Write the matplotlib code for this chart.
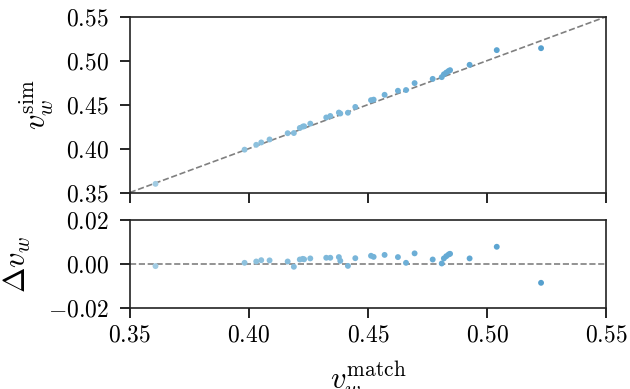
import numpy as np
import matplotlib.pyplot as plt

plt.rcParams['font.family'] = 'serif'
plt.rcParams['font.serif'] = ['cmr10', 'DejaVu Serif']
plt.rcParams['mathtext.fontset'] = 'cm'
plt.rcParams['axes.formatter.use_mathtext'] = True
plt.rcParams['font.size'] = 17

# v_w^match und Abweichung Delta v_w = v_sim - v_match
v_match = [0.3608, 0.3982, 0.4031, 0.4052, 0.4087, 0.4163, 0.4189, 0.4214,
           0.4226, 0.4232, 0.4258, 0.4325, 0.4342, 0.4378, 0.4384, 0.4416,
           0.4447, 0.4513, 0.4524, 0.4570, 0.4626, 0.4660, 0.4696, 0.4772,
           0.4810, 0.4819, 0.4829, 0.4839, 0.4845, 0.4927, 0.5041, 0.5227]
delta_v = [-0.0009, 0.0006, 0.0012, 0.0018, 0.0017, 0.0012, -0.0012, 0.0021,
           0.0024, 0.0022, 0.0026, 0.0029, 0.0029, 0.0032, 0.0015, -0.0008,
           0.0027, 0.0038, 0.0033, 0.0042, 0.0032, 0.0006, 0.0049, 0.0021,
           0.0003, 0.0026, 0.0036, 0.0044, 0.0047, 0.0026, 0.0079, -0.0085]

x = np.array(v_match)
d = np.array(delta_v)
y = x + d

fig = plt.figure(figsize=(6.3, 3.89), dpi=100)
ax1 = fig.add_axes([0.206, 0.505, 0.756, 0.452])
ax2 = fig.add_axes([0.206, 0.208, 0.756, 0.226])

cor = plt.cm.Blues(0.35 + 0.25 * (x - 0.35) / 0.2)
linha = np.array([0.35, 0.55])
ticks_x = [0.35, 0.40, 0.45, 0.50, 0.55]

ax1.plot(linha, linha, '--', color='#808080', lw=1.2, zorder=1)
ax1.scatter(x, y, s=18, c=cor, zorder=2, linewidths=0)
ax1.set_xlim(0.35, 0.55)
ax1.set_ylim(0.35, 0.55)
ax1.set_yticks(ticks_x)
ax1.set_yticklabels(['$%.2f$' % t for t in ticks_x])
ax1.set_xticks(ticks_x)
ax1.set_xticklabels([])
ax1.set_ylabel(r'$v_w^{\mathrm{sim}}$', fontsize=22, labelpad=7)

ax2.axhline(0, ls='--', color='#808080', lw=1.2, zorder=1)
ax2.scatter(x, d, s=18, c=cor, zorder=2, linewidths=0)
ax2.set_xlim(0.35, 0.55)
ax2.set_ylim(-0.02, 0.02)
ax2.set_yticks([-0.02, 0.0, 0.02])
ax2.set_yticklabels(['$-0.02$', '$0.00$', '$0.02$'])
ax2.set_xticks(ticks_x)
ax2.set_xticklabels(['$%.2f$' % t for t in ticks_x])
ax2.set_xlabel(r'$v_w^{\mathrm{match}}$', fontsize=22, labelpad=9)
ax2.set_ylabel(r'$\Delta v_w$', fontsize=22, labelpad=11)

for ax in (ax1, ax2):
    for s in ax.spines.values():
        s.set_linewidth(1.2)
        s.set_color('#222222')
    ax.tick_params(direction='out', length=7, width=1.2, labelsize=17)
    ax.tick_params(axis='x', pad=5)
    ax.tick_params(axis='y', pad=8)

fig.savefig('out.png', dpi=100)
